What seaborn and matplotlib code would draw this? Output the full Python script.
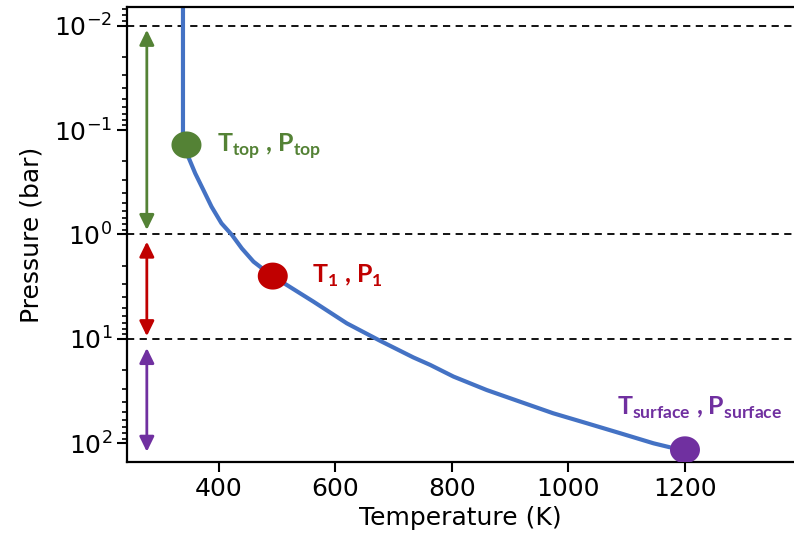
import numpy as np
import matplotlib
matplotlib.use('Agg')
import matplotlib.pyplot as plt
from matplotlib.path import Path
import seaborn as sns

# ==========================================
# data
# ==========================================
temp_k = [339, 339, 341, 348, 360, 374, 388, 405, 423, 440, 460, 490, 517,
          563, 620, 677, 734, 763, 803, 860, 917, 974, 1032, 1089, 1146, 1174]
pres_bar = [0.005, 0.12, 0.14, 0.180, 0.260, 0.375, 0.542, 0.781, 1.01, 1.36,
            1.82, 2.45, 3.04, 4.40, 7.08, 10.4, 15.0, 17.7, 22.9, 30.8, 39.8,
            51.4, 64.1, 79.8, 99.6, 108.7]

point_names = ['top', '1', 'surface']
point_t = [345, 493, 1200]
point_p = [0.139, 2.5, 115.0]
point_colors = ['#548235', '#C00000', '#7030A0']

label_t = [397, 560, 1083]
label_p = [0.163, 2.91, 52.7]

layer_bounds = [0.01, 1.0, 10.0]
arrow_t = 277
arrow_top = [0.011, 1.17, 12.2]
arrow_bottom = [0.905, 9.4, 120.0]

# ==========================================
# style
# ==========================================
sns.set_style('ticks', {'text.color': 'black', 'axes.labelcolor': 'black',
                        'xtick.color': 'black', 'ytick.color': 'black',
                        'axes.edgecolor': 'black'})
plt.rcParams['font.family'] = ['DejaVu Sans']
plt.rcParams['mathtext.bf'] = 'Lato:bold'
plt.rcParams['mathtext.rm'] = 'Lato'

fig = plt.figure(figsize=(7.94, 5.44), dpi=100)
ax = fig.add_axes([127 / 794, 1 - 462 / 544, 1.0 - 127 / 794, 455 / 544])

for yb in layer_bounds:
    ax.axhline(yb, color='black', lw=1.3, ls=(0, (4, 3)), zorder=1)

sns.lineplot(x=temp_k, y=pres_bar, sort=False, estimator=None,
             color='#4472C4', lw=3, ax=ax, zorder=2)

# elliptical dots
theta = np.linspace(0, 2 * np.pi, 80)
ell = Path(np.column_stack([np.cos(theta), 0.9 * np.sin(theta)]))
sns.scatterplot(x=point_t, y=point_p, hue=point_names, palette=point_colors,
                marker=ell, s=21.6 ** 2, linewidth=0, legend=False, ax=ax, zorder=3)

labels = [r'T$_{\mathbf{top}}$ , P$_{\mathbf{top}}$',
          r'T$_{\mathbf{1}}$ , P$_{\mathbf{1}}$',
          r'T$_{\mathbf{surface}}$ , P$_{\mathbf{surface}}$']
for lab, tx, py, c in zip(labels, label_t, label_p, point_colors):
    ax.text(tx, py, lab, color=c, fontsize=18, fontweight='bold', family='Lato',
            math_fontfamily='custom', ha='left', va='baseline')

for top, bot, c in zip(arrow_top, arrow_bottom, point_colors):
    ax.annotate('', xy=(arrow_t, bot), xytext=(arrow_t, top),
                arrowprops=dict(arrowstyle='<|-|>,head_length=0.45,head_width=0.22',
                                color=c, lw=2, mutation_scale=20,
                                shrinkA=0, shrinkB=0))

ax.set_yscale('log')
ax.set_xlim(243, 1387)
ax.set_ylim(150.4, 0.00665)
ax.set_xticks([400, 600, 800, 1000, 1200])
ax.set_yticks([0.01, 0.1, 1, 10, 100])
ax.set_xlabel('Temperature (K)', fontsize=18, labelpad=4)
ax.set_ylabel('Pressure (bar)', fontsize=18, labelpad=8)
ax.tick_params(axis='both', which='major', labelsize=18, length=7, width=1.5)
ax.tick_params(axis='y', which='minor', length=3.5, width=1.2)
for side in ['left', 'bottom', 'top']:
    ax.spines[side].set_linewidth(1.6)
ax.spines['right'].set_visible(False)

plt.savefig('out.png', dpi=100)
